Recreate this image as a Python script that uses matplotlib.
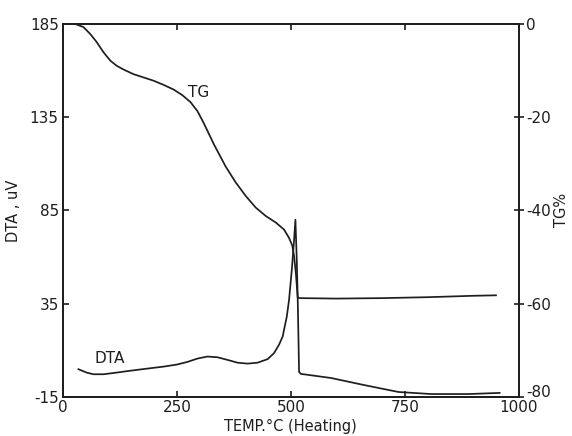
import matplotlib
matplotlib.use("Agg")
import matplotlib.pyplot as plt
from matplotlib.transforms import ScaledTranslation

# Thermogravimetric curve: temperature (°C) vs mass change (%)
tg_temp = [20, 26, 45, 60, 74, 89, 104, 118, 133, 155, 177, 199, 221, 243,
           262, 280, 295, 309, 331, 357, 379, 401, 423, 445, 467, 485, 496,
           503, 507, 511, 515, 520, 600, 700, 800, 900, 950]
tg_pct = [0, 0, -0.7, -2.2, -3.9, -6.1, -7.9, -9.0, -9.8, -10.8, -11.5,
          -12.2, -13.1, -14.1, -15.3, -16.8, -18.7, -21.3, -25.8, -30.6,
          -34.0, -36.9, -39.4, -41.2, -42.6, -44.1, -45.9, -47.5, -49.8,
          -53.5, -58.7, -58.8, -58.9, -58.8, -58.6, -58.3, -58.2]

# Differential thermal analysis curve: temperature (°C) vs signal (uV)
dta_temp = [34, 52, 67, 89, 118, 148, 184, 221, 250, 273, 295, 317, 339,
            361, 383, 405, 427, 449, 463, 474, 482, 485, 491, 496, 502, 507,
            510, 513, 515, 517, 518, 522, 588, 661, 736, 808, 890, 958]
dta_uv = [-0.1, -1.9, -2.8, -2.8, -1.9, -0.9, 0.2, 1.3, 2.4, 3.8, 5.6, 6.7,
          6.3, 4.9, 3.4, 2.9, 3.4, 5.3, 8.5, 13.0, 17.4, 21.0, 28.0, 37.0,
          53.0, 69.0, 80.0, 58.0, 38.0, 12.0, -1.6, -2.6, -4.8, -8.6, -12.3,
          -13.4, -13.4, -12.8]

x_ticks = [0, 250, 500, 750, 1000]
dta_ticks = [-15, 35, 85, 135, 185]
tg_ticks = [0, -20, -40, -60, -80]

ink = "#1e1e1e"
plt.rcParams["font.family"] = ["DejaVu Sans"]

fig = plt.figure(figsize=(5.72, 4.36), dpi=100)
ax = fig.add_axes([0.110, 0.0894, 0.797, 0.856])
ax2 = ax.twinx()

ax.plot(dta_temp, dta_uv, color=ink, lw=1.25)
ax2.plot(tg_temp, tg_pct, color=ink, lw=1.25)

ax.set_xlim(0, 1000)
ax.set_ylim(-15, 185)
ax2.set_ylim(-80, 0)

ax.set_xticks(x_ticks)
ax.set_xticklabels([str(v) for v in x_ticks])
ax.set_yticks(dta_ticks)
ax.set_yticklabels([str(v) for v in dta_ticks])
ax2.set_yticks(tg_ticks)
ax2.set_yticklabels([str(v) for v in tg_ticks])

for a in (ax, ax2):
    for s in a.spines.values():
        s.set_linewidth(1.3)
        s.set_color(ink)

ax.tick_params(axis="x", direction="in", length=4, width=1.2, top=True,
               labelsize=11, pad=2, colors=ink)
ax.tick_params(axis="y", direction="in", length=4, width=1.2,
               labelsize=11, pad=3, colors=ink)
ax2.tick_params(axis="y", direction="inout", length=7, width=1.2,
                labelsize=11, pad=2, colors=ink)

# lift the lowest right-hand label slightly clear of the corner
fig.canvas.draw()
lowest = ax2.get_yticklabels()[-1]
lowest.set_transform(lowest.get_transform()
                     + ScaledTranslation(0, 4 / 72, fig.dpi_scale_trans))

ax.set_xlabel("TEMP.°C (Heating)", fontsize=10.5, color=ink, labelpad=3)
ax.set_ylabel("DTA , uV", fontsize=10.5, color=ink, labelpad=6)
ax2.set_ylabel("TG%", fontsize=10.5, color=ink, labelpad=2)

ax.text(297, 148.4, "TG", fontsize=11, color=ink, ha="center", va="center")
ax.text(103, 5.4, "DTA", fontsize=11, color=ink, ha="center", va="center")

fig.savefig("out.png", dpi=100, facecolor="white")
